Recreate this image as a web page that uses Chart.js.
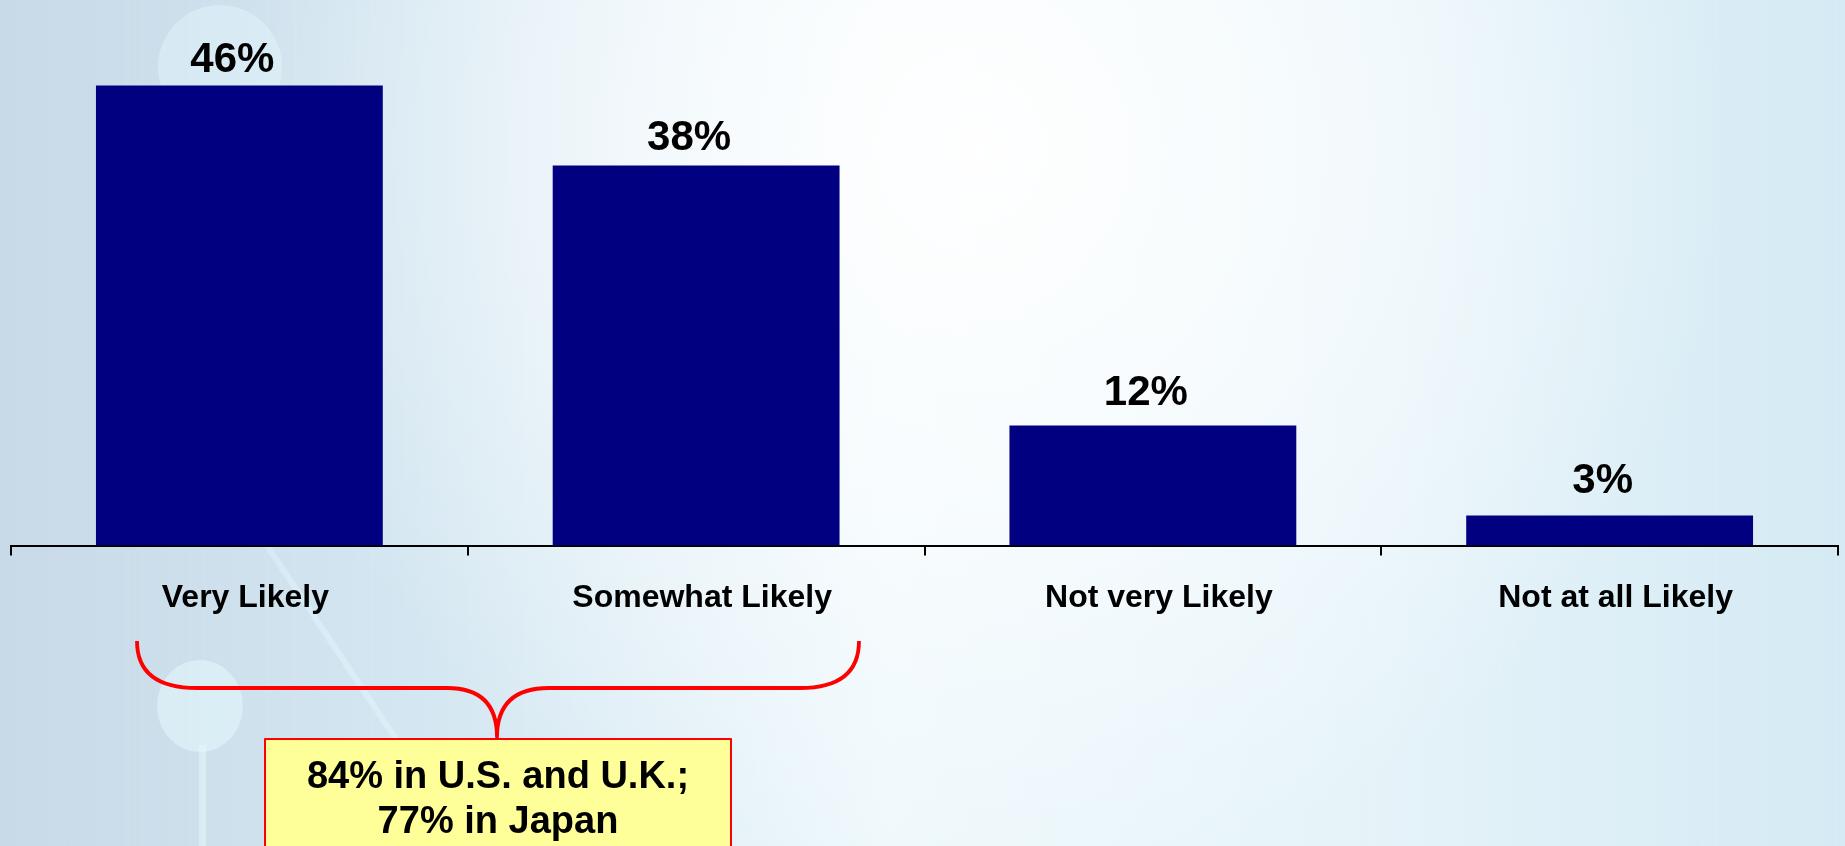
<!DOCTYPE html>
<html>
<head>
<meta charset="utf-8">
<script src="https://cdn.jsdelivr.net/npm/chart.js@4.4.0/dist/chart.umd.min.js"></script>
<style>
  html, body { margin: 0; padding: 0; overflow: hidden; }
  #likelyChart { display: block; }
</style>
</head>
<body>
<canvas id="likelyChart" width="1845" height="846"></canvas>
<script>
// survey answers, share of respondents in %
var categorias = ['Very Likely', 'Somewhat Likely', 'Not very Likely', 'Not at all Likely'];
var porcentajes = [46, 38, 12, 3];
var notaLineas = ['84% in U.S. and U.K.;', '77% in Japan'];

var FUENTE = '"Liberation Sans", Arial, Helvetica, sans-serif';

// soft blue slide background with light streaks
var fondoPlugin = {
    id: 'fondo',
    beforeDraw: function(chart) {
        var ctx = chart.ctx, w = chart.width, h = chart.height;
        ctx.save();
        var g = ctx.createLinearGradient(0, 0, w, 0);
        g.addColorStop(0, '#c8d9e7');
        g.addColorStop(0.22, '#d3e6f1');
        g.addColorStop(0.48, '#eef8fc');
        g.addColorStop(0.75, '#e5f3f9');
        g.addColorStop(1, '#d5eaf4');
        ctx.fillStyle = g;
        ctx.fillRect(0, 0, w, h);

        var r = ctx.createRadialGradient(980, 150, 0, 980, 150, 750);
        r.addColorStop(0, 'rgba(255,255,255,0.95)');
        r.addColorStop(0.5, 'rgba(255,255,255,0.55)');
        r.addColorStop(1, 'rgba(255,255,255,0)');
        ctx.fillStyle = r;
        ctx.fillRect(0, 0, w, h);

        // faint vertical stripes
        for (var x = 0; x < w; x += 7) {
            var a = ((x * 37) % 11) / 11 * 0.05;
            ctx.fillStyle = 'rgba(255,255,255,' + a + ')';
            ctx.fillRect(x, 0, 3, h);
        }

        // circles and lines of the slide theme
        ctx.fillStyle = 'rgba(226,246,251,0.5)';
        ctx.beginPath();
        ctx.arc(220, 67, 62, 0, Math.PI * 2);
        ctx.fill();
        ctx.fillStyle = 'rgba(226,246,251,0.6)';
        ctx.beginPath();
        ctx.ellipse(200, 706, 43, 46, 0, 0, Math.PI * 2);
        ctx.fill();
        ctx.fillRect(199, 745, 7, h - 745);

        var s = ctx.createLinearGradient(190, 430, 450, 820);
        s.addColorStop(0, 'rgba(225,244,250,0)');
        s.addColorStop(0.4, 'rgba(225,244,250,0.55)');
        s.addColorStop(1, 'rgba(225,244,250,0.6)');
        ctx.strokeStyle = s;
        ctx.lineWidth = 6;
        ctx.beginPath();
        ctx.moveTo(190, 430);
        ctx.lineTo(450, 820);
        ctx.stroke();
        ctx.restore();
    }
};

// percentage over each bar
var valoresPlugin = {
    id: 'valores',
    afterDatasetsDraw: function(chart) {
        var ctx = chart.ctx;
        var y = chart.scales.y;
        var meta = chart.getDatasetMeta(0);
        ctx.save();
        ctx.font = 'bold 42px ' + FUENTE;
        ctx.fillStyle = '#000';
        ctx.textAlign = 'center';
        ctx.textBaseline = 'alphabetic';
        meta.data.forEach(function(bar, i) {
            var v = porcentajes[i];
            // labels sit a little higher over the short bars
            ctx.fillText(v + '%', bar.x - 7, y.getPixelForValue(v * 0.98 + 2.3));
        });
        ctx.restore();
    }
};

// red brace over the first two answers and the yellow note
var notaPlugin = {
    id: 'nota',
    afterDraw: function(chart) {
        var ctx = chart.ctx;
        ctx.save();
        ctx.strokeStyle = '#ff0000';
        ctx.lineWidth = 3.8;
        ctx.lineJoin = 'round';
        ctx.beginPath();
        ctx.moveTo(137, 641);
        ctx.quadraticCurveTo(137, 688, 197, 688);
        ctx.lineTo(447, 688);
        ctx.quadraticCurveTo(497, 688, 497, 737);
        ctx.quadraticCurveTo(497, 688, 549, 688);
        ctx.lineTo(800, 688);
        ctx.quadraticCurveTo(859, 688, 859, 641);
        ctx.stroke();

        ctx.fillStyle = '#ffff99';
        ctx.fillRect(265, 739, 466, 130);
        ctx.lineWidth = 2;
        ctx.strokeRect(265, 739, 466, 130);

        ctx.fillStyle = '#000';
        ctx.font = 'bold 38px ' + FUENTE;
        ctx.textAlign = 'center';
        ctx.textBaseline = 'alphabetic';
        ctx.fillText(notaLineas[0], 498, 788);
        ctx.fillText(notaLineas[1], 498, 833);
        ctx.restore();
    }
};

var ctx = document.getElementById('likelyChart').getContext('2d');
var chart = new Chart(ctx, {
    type: 'bar',
    data: {
        labels: categorias,
        datasets: [{
            data: porcentajes,
            backgroundColor: '#000080',
            borderWidth: 0,
            barPercentage: 0.628,
            categoryPercentage: 1
        }]
    },
    options: {
        responsive: false,
        animation: false,
        layout: { padding: { left: 11, right: 7, top: 45.5, bottom: 0 } },
        plugins: {
            legend: { display: false },
            tooltip: { enabled: false }
        },
        scales: {
            y: { display: false, min: 0, max: 50 },
            x: {
                offset: true,
                grid: {
                    offset: true,
                    drawOnChartArea: false,
                    drawTicks: true,
                    tickLength: 10,
                    color: '#000',
                    lineWidth: 2
                },
                border: { display: true, color: '#000', width: 2 },
                ticks: {
                    color: '#000',
                    font: { family: FUENTE, size: 32, weight: 'bold' },
                    padding: 23,
                    labelOffset: 6,
                    maxRotation: 0,
                    autoSkip: false
                },
                afterFit: function(scale) { scale.height = 300.5; }
            }
        }
    },
    plugins: [fondoPlugin, valoresPlugin, notaPlugin]
});
</script>
</body>
</html>
